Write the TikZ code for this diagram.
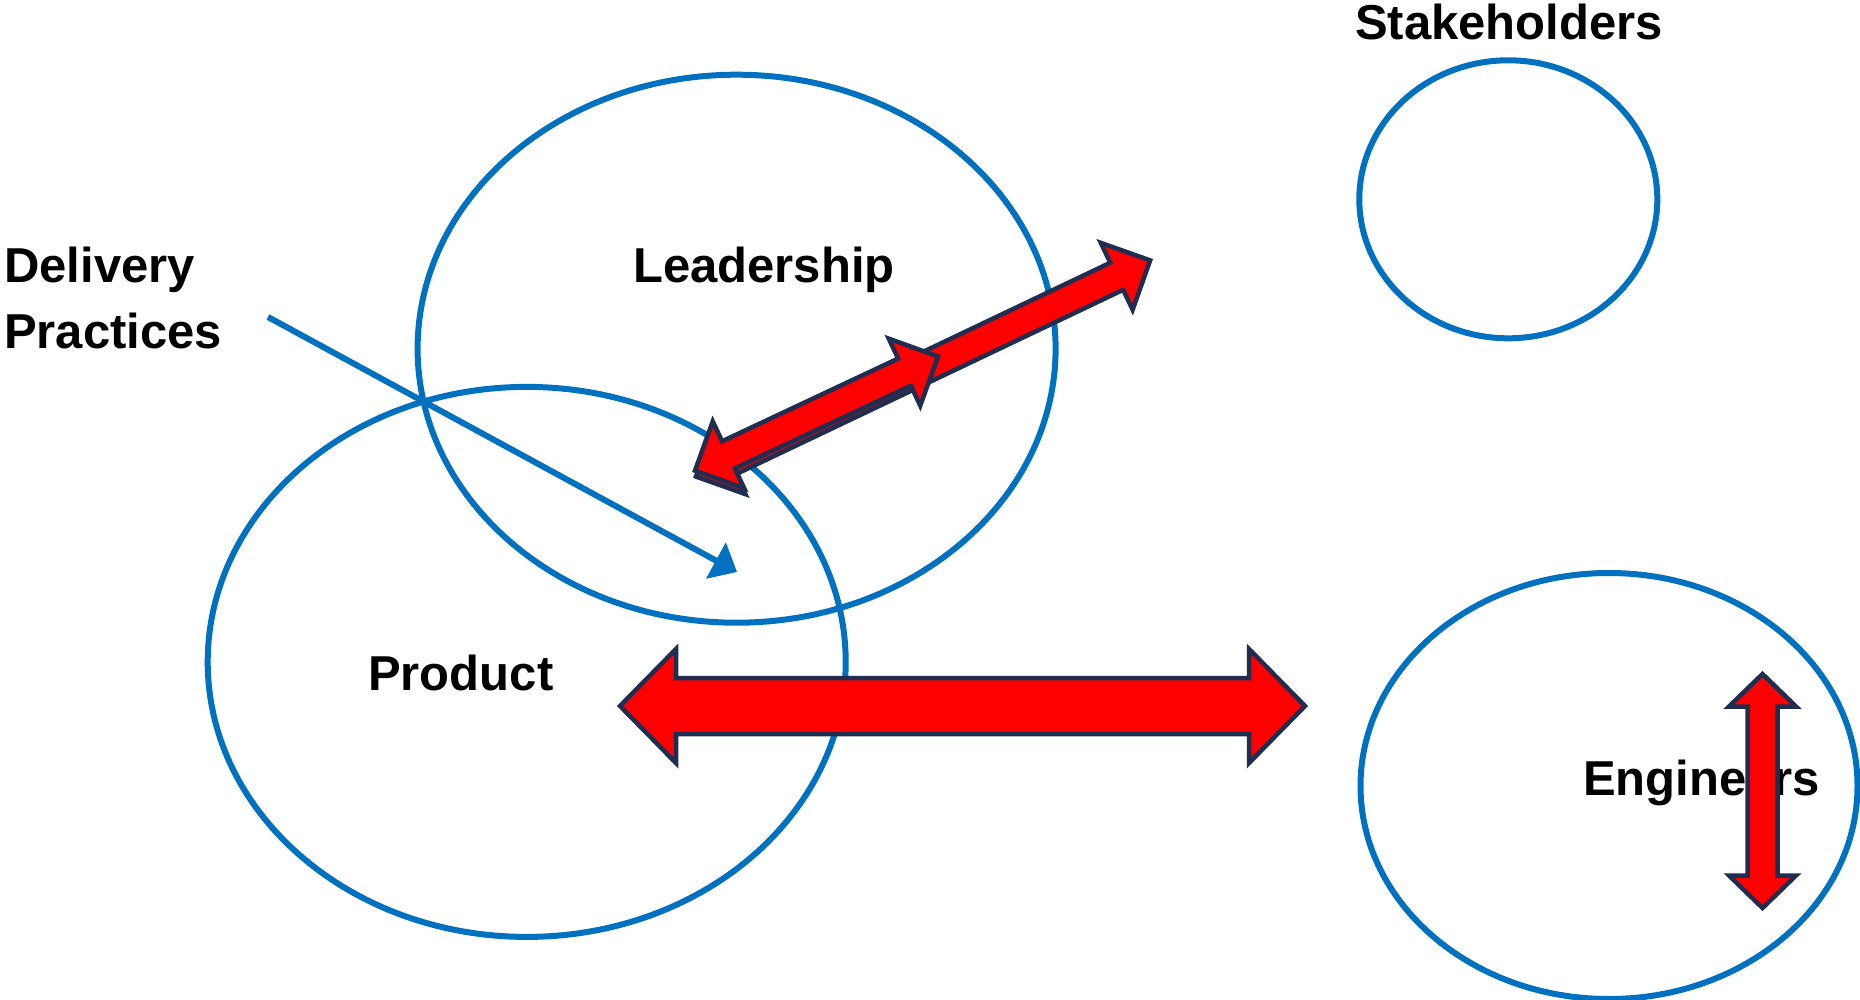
\documentclass[tikz,border=0pt]{standalone}
\usepackage{fontspec}
\setmainfont{Liberation Sans}
\usetikzlibrary{shapes.geometric,arrows.meta}
\definecolor{ringblue}{HTML}{0070C0}
\definecolor{blockred}{HTML}{FF0000}
\definecolor{blocknavy}{HTML}{1F2E50}
\tikzset{
  ring/.style={draw=ringblue, line width=6pt, ellipse, inner sep=0pt, fill=none},
  lbl/.style={anchor=base west, inner sep=0pt, font=\fontsize{49}{58}\selectfont\bfseries, text=black},
  bluearrow/.style={draw=ringblue, line width=6pt, -{Triangle[length=24pt,width=40pt]}},
  redblock/.style={fill=blockred, draw=blocknavy, line width=4.5pt, line join=miter}
}
% #1,#2 start tip; #3 angle; #4 length; #5 shaft half; #6 head half; #7 head length
\newcommand\blockarr[7]{%
  \draw[redblock, shift={(#1,#2)}, rotate=#3]
    (0,0) -- (#7,#6) -- (#7,#5) -- ({#4-#7},#5) -- ({#4-#7},#6) -- (#4,0)
    -- ({#4-#7},-#6) -- ({#4-#7},-#5) -- (#7,-#5) -- (#7,-#6) -- cycle;}
\begin{document}
\begin{tikzpicture}[x=1pt,y=-1pt]
\useasboundingbox (0,0) rectangle (1860,1000);
% ellipses
\node[ring, minimum width=638pt, minimum height=548pt] (lead) at (736.6,348.7) {};
\node[ring, minimum width=638pt, minimum height=550pt] (prod) at (526.7,661.9) {};
\node[ring, minimum width=298pt, minimum height=278pt] (stake) at (1508.3,199.3) {};
\node[ring, minimum width=497pt, minimum height=426pt] (eng) at (1609,786) {};
% labels
\node[lbl] (tstake) at (1355,40) {Stakeholders};
\node[lbl] (tlead) at (633,283) {Leadership};
\node[lbl] (tdel) at (4,283) {Delivery};
\node[lbl] (tprac) at (4,348) {Practices};
\node[lbl] (tprod) at (368,690) {Product};
\node[lbl] (teng) at (1583,795) {Engineers};
% blue arrow
\coordinate (bs) at (268,317);
\coordinate (be) at (737,572);
\draw[bluearrow] (bs) -- (be);
% red block arrows
\blockarr{696}{476.6}{25.46}{503}{15}{37}{37}
\blockarr{695}{470.6}{25.17}{268.5}{15}{37}{37}
\blockarr{620}{706}{0}{685}{28}{57}{56}
\blockarr{1762.5}{908}{90}{234}{15}{33.5}{32.5}
\end{tikzpicture}
\end{document}
